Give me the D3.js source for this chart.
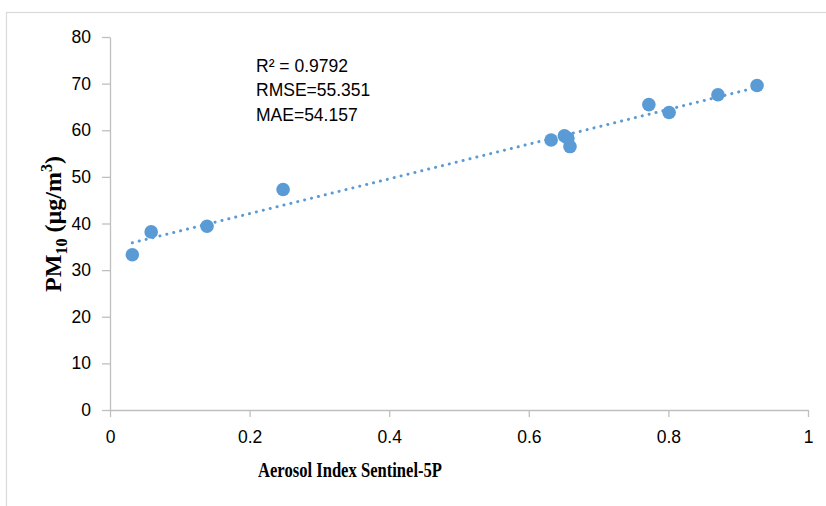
<!DOCTYPE html>
<html>
<head>
<meta charset="utf-8">
<script src="https://cdn.jsdelivr.net/npm/d3@7"></script>
<style>
  html, body { margin: 0; padding: 0; background: #fff; }
  svg { display: block; }
</style>
</head>
<body>
<svg id="chart" width="826" height="506"></svg>
<script>
// Aerosol index (Sentinel-5P) against measured PM10
const aerosolIndex = [0.032, 0.059, 0.139, 0.248, 0.632, 0.651, 0.656, 0.659, 0.772, 0.801, 0.871, 0.927];
const pm10 = [33.3, 38.2, 39.4, 47.3, 57.9, 58.8, 58.3, 56.5, 65.5, 63.8, 67.6, 69.6];
const xTicks = [0, 0.2, 0.4, 0.6, 0.8, 1];
const yTicks = [0, 10, 20, 30, 40, 50, 60, 70, 80];
const statLines = ["R² = 0.9792", "RMSE=55.351", "MAE=54.157"];

const svg = d3.select("#chart");
const axisColor = "#bfbfbf";
const pointColor = "#5b9bd5";
const tickFont = "'Liberation Sans', Arial, sans-serif";
const titleFont = "'Liberation Serif', 'Times New Roman', serif";

// chart frame
svg.append("rect")
  .attr("x", 6.5).attr("y", 12.5)
  .attr("width", 900).attr("height", 600)
  .attr("fill", "none").attr("stroke", "#d9d9d9").attr("stroke-width", 1.2);

const x = d3.scaleLinear().domain([0, 1]).range([110, 808]);
const y = d3.scaleLinear().domain([0, 80]).range([410, 37]);

// x axis
const xAxis = svg.append("g")
  .attr("transform", `translate(0,${y(0)})`)
  .call(d3.axisBottom(x).tickValues(xTicks).tickSize(7).tickSizeOuter(0)
    .tickFormat(d => d === 0 || d === 1 ? d3.format("d")(d) : d3.format(".1f")(d)));
xAxis.select(".domain").attr("stroke", axisColor).attr("stroke-width", 1.3);
xAxis.selectAll(".tick line").attr("stroke", axisColor).attr("stroke-width", 1.3);
xAxis.selectAll(".tick text")
  .attr("y", 33).attr("dy", null)
  .attr("fill", "#000").style("font-family", tickFont).style("font-size", "17.5px");

// y axis
const yAxis = svg.append("g")
  .attr("transform", `translate(${x(0)},0)`)
  .call(d3.axisLeft(y).tickValues(yTicks).tickSize(8).tickSizeOuter(0));
yAxis.select(".domain").attr("stroke", axisColor).attr("stroke-width", 1.3);
yAxis.selectAll(".tick line").attr("stroke", axisColor).attr("stroke-width", 1.3);
yAxis.selectAll(".tick text")
  .attr("x", -19)
  .attr("fill", "#000").style("font-family", tickFont).style("font-size", "17.5px");

// least-squares trend line over the observations
const n = aerosolIndex.length;
const mx = d3.mean(aerosolIndex), my = d3.mean(pm10);
let sxy = 0, sxx = 0;
for (let i = 0; i < n; i++) {
  sxy += (aerosolIndex[i] - mx) * (pm10[i] - my);
  sxx += (aerosolIndex[i] - mx) ** 2;
}
const slope = sxy / sxx, intercept = my - slope * mx;
const x0 = d3.min(aerosolIndex), x1 = d3.max(aerosolIndex);
svg.append("line")
  .attr("x1", x(x0)).attr("y1", y(intercept + slope * x0))
  .attr("x2", x(x1)).attr("y2", y(intercept + slope * x1))
  .attr("stroke", pointColor).attr("stroke-width", 3)
  .attr("stroke-linecap", "round").attr("stroke-dasharray", "0.1 7");

// observations
svg.append("g").selectAll("circle")
  .data(aerosolIndex.map((v, i) => [v, pm10[i]]))
  .join("circle")
  .attr("cx", d => x(d[0])).attr("cy", d => y(d[1]))
  .attr("r", 6.8)
  .attr("fill", pointColor);

// statistics block
svg.append("g").selectAll("text")
  .data(statLines)
  .join("text")
  .attr("x", 256).attr("y", (d, i) => [72, 96, 121][i])
  .style("font-family", "'Liberation Sans', Arial, sans-serif")
  .style("font-size", "17.5px")
  .attr("fill", "#000")
  .text(d => d);

// axis titles
svg.append("text")
  .attr("x", 350).attr("y", 477)
  .attr("text-anchor", "middle")
  .attr("textLength", 184).attr("lengthAdjust", "spacingAndGlyphs")
  .style("font-family", titleFont).style("font-weight", "bold").style("font-size", "20px")
  .text("Aerosol Index Sentinel-5P");

const yTitle = svg.append("text")
  .attr("transform", "translate(61,224) rotate(-90)")
  .attr("text-anchor", "middle")
  .style("font-family", titleFont).style("font-weight", "bold").style("font-size", "24px");
yTitle.append("tspan").text("PM");
yTitle.append("tspan").attr("dy", 6).style("font-size", "16px").text("10");
yTitle.append("tspan").attr("dy", -6).text(" (µg/m");
yTitle.append("tspan").attr("dy", -9).style("font-size", "16px").text("3");
yTitle.append("tspan").attr("dy", 9).text(")");
</script>
</body>
</html>
